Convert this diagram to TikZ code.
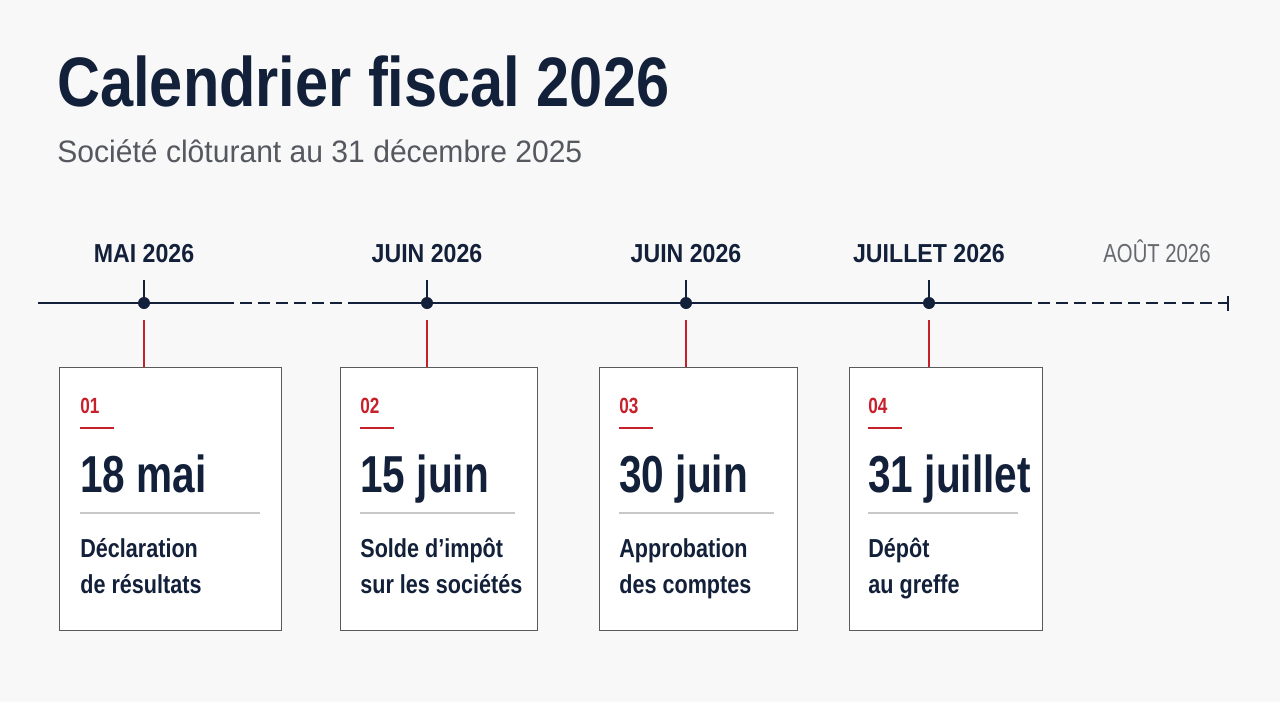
\documentclass[tikz,border=0pt]{standalone}
\usepackage{fontspec}
\setmainfont{Liberation Sans}[FakeStretch=0.78]
\newfontfamily\titlefont{Liberation Sans}[FakeStretch=0.85]
\newfontfamily\subfont{Liberation Sans}[FakeStretch=0.97]
\newfontfamily\monthfont{Liberation Sans}[FakeStretch=0.89]
\newfontfamily\descfont{Liberation Sans}[FakeStretch=0.83]
\definecolor{navy}{HTML}{13203A}
\definecolor{accent}{HTML}{C8202B}
\definecolor{subgray}{HTML}{55585E}
\definecolor{bgc}{HTML}{F8F8F8}
\definecolor{boxline}{HTML}{5A5A5A}
\definecolor{sepgray}{HTML}{C8C8C8}
\begin{document}
\begin{tikzpicture}[x=0.5pt,y=-0.5pt,
  month/.style={font=\monthfont\bfseries\fontsize{13}{15}\selectfont, text=navy, anchor=base, inner sep=0},
  card/.style={draw=boxline, line width=0.7pt, fill=white, anchor=north west, inner sep=0},
  num/.style={font=\bfseries\fontsize{11}{13}\selectfont, text=accent, anchor=base west, inner sep=0},
  bigdate/.style={font=\bfseries\fontsize{26}{30}\selectfont, text=navy, anchor=base west, inner sep=0},
  desc/.style={font=\descfont\bfseries\fontsize{13}{18}\selectfont, text=navy, anchor=base west, inner sep=0, align=left},
  axis/.style={draw=navy, line width=1pt},
  axisdash/.style={draw=navy, line width=1pt, dash pattern=on 6pt off 3pt},
  dotmark/.style={circle, fill=navy, minimum size=6pt, inner sep=0},
  redlink/.style={draw=accent, line width=1pt},
  tick/.style={draw=navy, line width=1pt},
]
\fill[bgc] (0,0) rectangle (1280,702);
\useasboundingbox (0,0) rectangle (1280,702);

% title
\node[anchor=base west, inner sep=0, text=navy, font=\titlefont\bfseries\fontsize{35}{40}\selectfont] (title) at (57,106) {Calendrier fiscal 2026};
\node[anchor=base west, inner sep=0, text=subgray, font=\subfont\fontsize{15.5}{18}\selectfont] (subtitle) at (57,162) {Société clôturant au 31 décembre 2025};

% timeline
\coordinate (t0) at (38,303);
\coordinate (tA) at (222,303);
\coordinate (tB) at (350,303);
\coordinate (tC) at (1020,303);
\coordinate (tE) at (1228,303);
\draw[axis] (t0) -- (tA);
\draw[axisdash] (tA) -- (tB);
\draw[axis] (tB) -- (tC);
\draw[axisdash] (tC) -- (tE);
\coordinate (tEu) at (1228,296);
\coordinate (tEd) at (1228,311);
\draw[tick] (tEu) -- (tEd);

% months
\node[month] (m1) at (144,262) {MAI 2026};
\node[month] (m2) at (427,262) {JUIN 2026};
\node[month] (m3) at (686,262) {JUIN 2026};
\node[month] (m4) at (929,262) {JUILLET 2026};
\node[month, font=\fontsize{13}{15}\selectfont, text=subgray!90] (m5) at (1157,262) {AOÛT 2026};

% dots and ticks
\foreach \i/\x in {1/144,2/427,3/686,4/929}{
  \coordinate (up\i) at (\x,280);
  \node[dotmark] (d\i) at (\x,303) {};
  \draw[tick] (up\i) -- (d\i.center);
  \coordinate (lo\i) at (\x,320);
}

% cards
\node[card, minimum width=111pt, minimum height=131.5pt] (b1) at (59,367) {};
\node[card, minimum width=98.5pt, minimum height=131.5pt] (b2) at (340,367) {};
\node[card, minimum width=99pt, minimum height=131.5pt] (b3) at (599,367) {};
\node[card, minimum width=96.5pt, minimum height=131.5pt] (b4) at (849,367) {};

\foreach \i in {1,2,3,4}{
  \draw[redlink] (lo\i) -- (lo\i |- b\i.north);
}

% card contents
\foreach \i/\x/\w/\n/\d/\la/\lb in {
  1/80/180/01/18 mai/Déclaration/de résultats,
  2/360/155/02/15 juin/Solde d’impôt/sur les sociétés,
  3/619/155/03/30 juin/Approbation/des comptes,
  4/868/150/04/31 juillet/Dépôt/au greffe}{
  \node[num] (n\i) at (\x,413) {\n};
  \coordinate (ra\i) at (\x,428);
  \coordinate (rb\i) at (\x+34,428);
  \draw[draw=accent, line width=0.9pt] (ra\i) -- (rb\i);
  \node[bigdate] (date\i) at (\x,492) {\d};
  \coordinate (sa\i) at (\x,513);
  \coordinate (sb\i) at (\x+\w,513);
  \draw[draw=sepgray, line width=0.6pt] (sa\i) -- (sb\i);
  \node[desc] (la\i) at (\x,557) {\la};
  \node[desc] (lb\i) at (\x,593) {\lb};
}
\end{tikzpicture}
\end{document}
